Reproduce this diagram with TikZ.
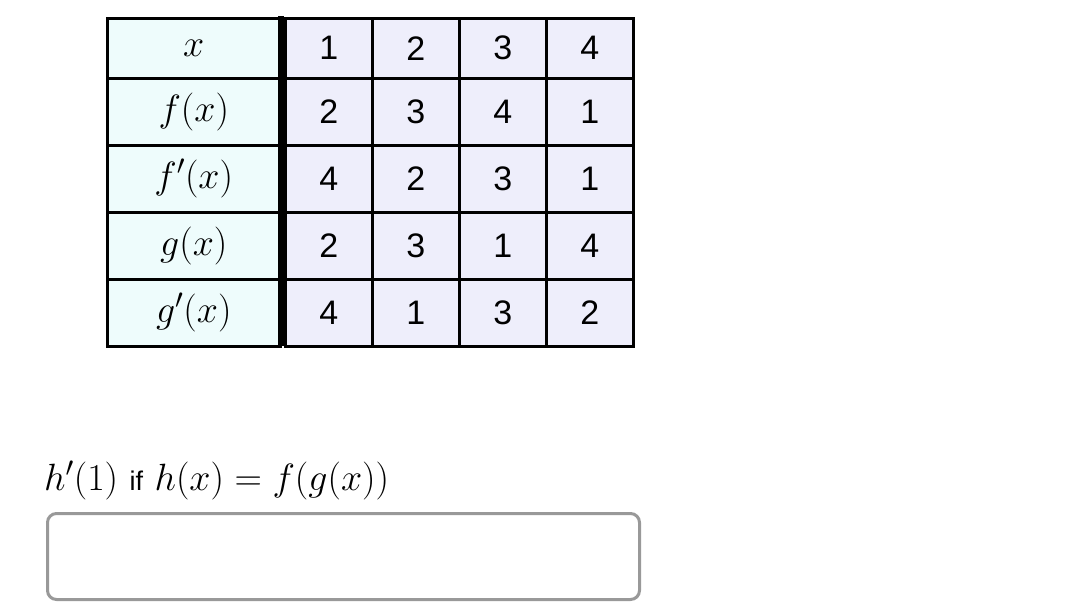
\documentclass[tikz,border=0pt]{standalone}
\usepackage{fix-cm}
\usepackage{fontspec}
\setsansfont{Liberation Sans}
\DeclareMathSizes{38}{38}{28}{20}
\begin{document}
\begin{tikzpicture}[x=1pt,y=-1pt,
  lab/.style={draw=black,line width=2.5pt,fill=labc,minimum width=173pt,minimum height=67pt,anchor=north west,inner sep=0pt,font=\fontsize{38}{40}\selectfont},
  cell/.style={draw=black,line width=2.5pt,fill=cellc,minimum width=87pt,minimum height=67pt,anchor=north west,inner sep=0pt,font=\sffamily\fontsize{34}{40}\selectfont}]
\definecolor{labc}{HTML}{EEFCFC}
\definecolor{cellc}{HTML}{EEEEFB}
\definecolor{boxc}{HTML}{999999}
\useasboundingbox (0,0) rectangle (1080,616);
\def\ys{{17,77,144,211,278}}
\def\hs{{60,67,67,67,67}}
\foreach \lbl [count=\r from 0] in {$x$,$f(x)$,$f'(x)$,$g(x)$,$g'(x)$}{
  \pgfmathsetmacro{\yy}{\ys[\r]}
  \pgfmathsetmacro{\hh}{\hs[\r]}
  \node[lab,minimum height=\hh pt] (l\r) at (106,\yy) {\lbl};
}
\foreach \row [count=\r from 0] in {{1,2,3,4},{2,3,4,1},{4,2,3,1},{2,3,1,4},{4,1,3,2}}{
  \pgfmathsetmacro{\yy}{\ys[\r]}
  \pgfmathsetmacro{\hh}{\hs[\r]}
  \foreach \v [count=\c from 0] in \row {
    \node[cell,minimum height=\hh pt] (c\r\c) at (284+87*\c,\yy) {\v};
  }
}
\draw[line width=6pt] (281,16) -- (281,346);
\node[anchor=base west,inner sep=0pt,font=\fontsize{38}{40}\selectfont] (q) at (44,490)
  {$h'(1)$ {\sffamily\fontsize{27}{30}\selectfont if} $h(x)=f(g(x))$};
\node[draw=boxc,line width=3pt,rounded corners=9pt,minimum width=592pt,minimum height=86pt,anchor=north west,inner sep=0pt] (box) at (46,512) {};
\end{tikzpicture}
\end{document}
